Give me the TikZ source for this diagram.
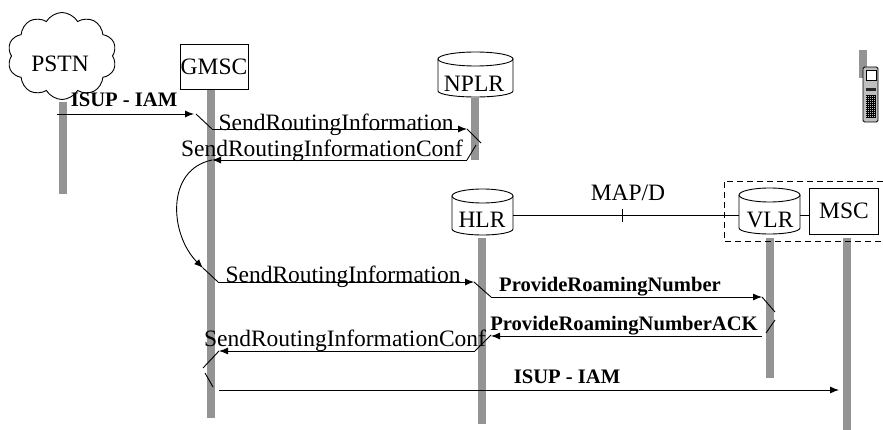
\documentclass[tikz,border=0pt]{standalone}
\usepackage{fontspec}
\setmainfont{Liberation Serif}
\usetikzlibrary{arrows.meta,shapes.symbols}
\tikzset{
	lifeline/.style={line width=7.5pt, color=black!42},
	msg/.style={line width=0.9pt, -{Latex[length=9pt,width=7pt]}},
	tick/.style={line width=0.9pt},
	lbl/.style={inner sep=0pt, anchor=base, font=\fontsize{23.5}{23.5}\selectfont},
	blbl/.style={inner sep=0pt, anchor=base, font=\fontsize{20.6}{20.6}\bfseries\selectfont},
	box/.style={draw, line width=0.9pt, fill=white, inner sep=0pt, font=\fontsize{23.5}{23.5}\selectfont}
}
% left, right, top, bottom of a drum
\def\drum(#1,#2,#3,#4){
	\draw[line width=0.9pt, fill=white] (#1,#3+7) -- (#1,#4-6) arc[start angle=180, end angle=0, x radius={(#2-#1)/2}, y radius=6] -- (#2,#3+7);
	\draw[line width=0.9pt, fill=white] ({(#1+#2)/2},#3+7) ellipse [x radius={(#2-#1)/2}, y radius=7];
}
\begin{document}
\begin{tikzpicture}[x=1pt, y=-1pt]
	\useasboundingbox (0,0) rectangle (883,430);
	%%%%% lifelines %%%%%
	\draw[lifeline] (63,102) -- (63,194);
	\draw[lifeline] (211,90) -- (211,418);
	\draw[lifeline] (475,98) -- (475,160);
	\draw[lifeline] (482,238) -- (482,424);
	\draw[lifeline] (770,238) -- (770,378);
	\draw[lifeline] (847,238) -- (847,430);
	\draw[lifeline] (863,50) -- (863,78);
	%%%%% entities %%%%%
	\node[cloud, cloud puffs=10, cloud puff arc=120, aspect=1.3, draw, line width=0.9pt, fill=white, minimum width=109pt, minimum height=87pt, inner sep=0pt] (pstn) at (62,56) {};
	\node[lbl] (pstnlbl) at (60,72) {PSTN};
	\node[box, minimum width=68pt, minimum height=45pt] (gmsc) at (214,67) {GMSC};
	\drum(438,513,52,97);
	\node[lbl] (nplr) at (474,92) {NPLR};
	\drum(452,513,189,235);
	\node[lbl] (hlr) at (482,228) {HLR};
	\drum(739,800,188,234);
	\node[lbl] (vlr) at (770,228) {VLR};
	\node[box, minimum width=69pt, minimum height=46pt] (msc) at (844,211) {MSC};
	%%%%% MAP/D link %%%%%
	\draw[line width=0.9pt] (513,215) -- (739,215);
	\draw[line width=0.9pt] (800,215) -- (msc.west |- 0,215);
	\draw[line width=0.9pt] (622,209) -- (622,222);
	\node[lbl] (mapd) at (628,201) {MAP/D};
	\draw[line width=0.9pt, dash pattern=on 6pt off 4pt] (883,181) -- (724,181) -- (724,241) -- (883,241);
	%%%%% messages %%%%%
	\node[blbl] (isupa) at (124,107) {ISUP - IAM};
	\draw[msg] (57,114) -- (194,114);
	\draw[tick] (196,114) -- (212,129);
	\draw[msg] (212,129) -- (467,129);
	\node[lbl] (srib) at (336,130.5) {SendRoutingInformation};
	\draw[tick] (467,129) -- (481,143);
	\draw[tick] (476,145) -- (467,160);
	\draw[msg] (467,160) -- (212,160);
	\node[lbl] (sric) at (322,157) {SendRoutingInformationConf};
	\draw[msg] (212,160) .. controls (165,170) and (170,235) .. (203,268);
	\draw[tick] (203,268) -- (218,282);
	\draw[msg] (218,282) -- (474,282);
	\node[lbl] (srid) at (343,283) {SendRoutingInformation};
	\draw[tick] (474,282) -- (491,297);
	\draw[msg] (491,297) -- (762,297);
	\node[blbl] (prn) at (610,291.5) {ProvideRoamingNumber};
	\draw[tick] (762,297) -- (775,312);
	\draw[tick] (775,320) -- (766,333);
	\draw[msg] (762,336) -- (491,336);
	\node[blbl] (prna) at (624,330) {ProvideRoamingNumberACK};
	\draw[tick] (475,351) -- (491,335);
	\draw[msg] (475,351) -- (219,351);
	\node[lbl] (srie) at (345,346.5) {SendRoutingInformationConf};
	\draw[tick] (203,368) -- (219,351);
	\draw[tick] (205,373) -- (213,387);
	\draw[msg] (219,390) -- (839,390);
	\node[blbl] (isupb) at (567,383) {ISUP - IAM};
	%%%%% phone %%%%%
	\draw[line width=0.9pt, rounded corners=1.5pt, fill=black!25] (863,67) rectangle (878,122);
	\draw[line width=0.7pt, fill=white] (866,70) rectangle (876,80);
	\fill[black!85] (866,88) rectangle (876,91);
	\foreach \y in {95,97,...,117}
		\draw[line width=0.6pt] (866,\y) -- (876,\y);
	\foreach \x in {867,869,...,875}
		\draw[line width=0.6pt] (\x,95) -- (\x,117);
\end{tikzpicture}
\end{document}
